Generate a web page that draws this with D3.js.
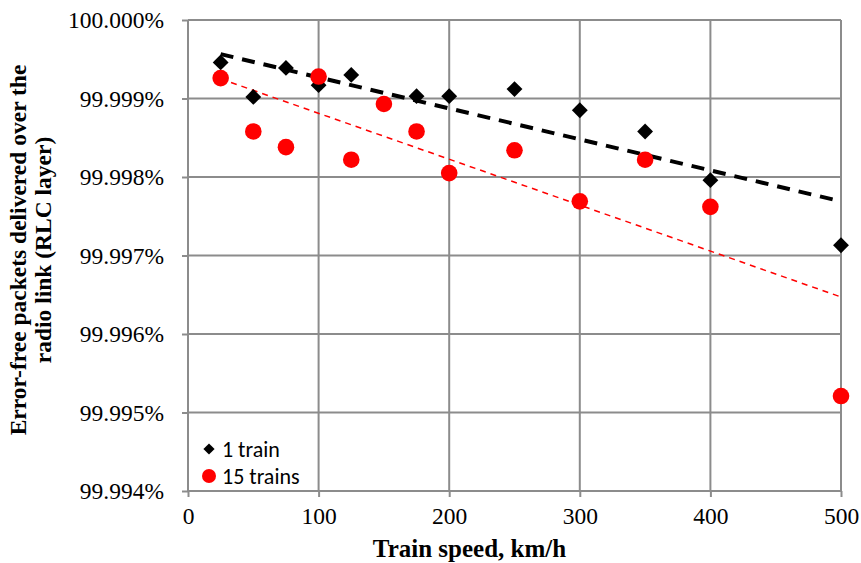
<!DOCTYPE html>
<html>
<head>
<meta charset="utf-8">
<script src="https://cdn.jsdelivr.net/npm/d3@7"></script>
<style>
  body { margin: 0; background: #fff; }
  svg { display: block; }
</style>
</head>
<body>
<div id="chart-container"></div>
<script>
// Data
const speeds = [25, 50, 75, 100, 125, 150, 175, 200, 250, 300, 350, 400, 500];
const oneTrain = [99.99946, 99.99902, 99.99939, 99.99917, 99.99930, 99.99893, 99.99903,
                  99.99903, 99.99912, 99.99885, 99.99858, 99.99796, 99.99713];
const fifteenTrains = [99.99926, 99.99858, 99.99838, 99.99928, 99.99822, 99.99893, 99.99858,
                       99.99805, 99.99834, 99.99769, 99.99822, 99.99762, 99.99521];
const xTicks = [0, 100, 200, 300, 400, 500];
const yTicks = [99.994, 99.995, 99.996, 99.997, 99.998, 99.999, 100.000];
const seriesNames = ["1 train", "15 trains"];

function renderChart() {
    const width = 861, height = 563;
    const margin = { top: 20, right: 20, bottom: 72, left: 188 };
    const w = width - margin.left - margin.right;
    const h = height - margin.top - margin.bottom;
    const serif = "'Liberation Serif', 'Times New Roman', serif";

    const svg = d3.select("#chart-container").append("svg")
        .attr("width", width)
        .attr("height", height);

    const g = svg.append("g")
        .attr("transform", `translate(${margin.left},${margin.top})`);

    const x = d3.scaleLinear().domain([0, 500]).range([0, w]);
    const y = d3.scaleLinear().domain([99.994, 100.000]).range([h, 0]);

    const gridColor = "#8c8c8c";

    // Grid
    g.append("g").selectAll("line")
        .data(yTicks)
        .join("line")
        .attr("x1", 0).attr("x2", w)
        .attr("y1", d => y(d)).attr("y2", d => y(d))
        .attr("stroke", gridColor).attr("stroke-width", 2);

    g.append("g").selectAll("line")
        .data(xTicks)
        .join("line")
        .attr("x1", d => x(d)).attr("x2", d => x(d))
        .attr("y1", 0).attr("y2", h)
        .attr("stroke", gridColor).attr("stroke-width", 2);

    // Axes
    const yAxis = g.append("g")
        .call(d3.axisLeft(y).tickValues(yTicks).tickSize(6).tickPadding(18)
            .tickFormat(d => d3.format(".3f")(d) + "%"));
    const xAxis = g.append("g")
        .attr("transform", `translate(0,${h})`)
        .call(d3.axisBottom(x).tickValues(xTicks).tickSize(6).tickPadding(10));

    [xAxis, yAxis].forEach(a => {
        a.attr("font-family", serif).attr("font-size", 23.5);
        a.select(".domain").remove();
        a.selectAll(".tick line").attr("stroke", gridColor).attr("stroke-width", 2);
        a.selectAll("text").attr("fill", "#000");
    });

    // Trendlines (least squares, like the spreadsheet's linear trendline)
    function trend(vals) {
        const mx = d3.mean(speeds), my = d3.mean(vals);
        const slope = d3.sum(speeds, (s, i) => (s - mx) * (vals[i] - my)) /
                      d3.sum(speeds, s => (s - mx) ** 2);
        return [speeds[0], speeds[speeds.length - 1]].map(s => [s, my + slope * (s - mx)]);
    }
    const line = d3.line().x(d => x(d[0])).y(d => y(d[1]));

    g.append("path")
        .attr("d", line(trend(fifteenTrains)))
        .attr("fill", "none")
        .attr("stroke", "#ff0000")
        .attr("stroke-width", 1.5)
        .attr("stroke-dasharray", "6,5");

    g.append("path")
        .attr("d", line(trend(oneTrain)))
        .attr("fill", "none")
        .attr("stroke", "#000")
        .attr("stroke-width", 4)
        .attr("stroke-dasharray", "13,9");

    // Points
    const diamond = d3.symbol().type(d3.symbolDiamond2).size(160);

    g.append("g").selectAll("path")
        .data(speeds.map((s, i) => [s, oneTrain[i]]))
        .join("path")
        .attr("d", diamond)
        .attr("transform", d => `translate(${x(d[0])},${y(d[1])})`)
        .attr("fill", "#000");

    g.append("g").selectAll("circle")
        .data(speeds.map((s, i) => [s, fifteenTrains[i]]))
        .join("circle")
        .attr("cx", d => x(d[0]))
        .attr("cy", d => y(d[1]))
        .attr("r", 8.3)
        .attr("fill", "#ff0000");

    // Legend
    const legend = g.append("g").attr("transform", "translate(21,429)");
    legend.append("path")
        .attr("d", d3.symbol().type(d3.symbolDiamond2).size(80))
        .attr("fill", "#000");
    legend.append("circle")
        .attr("cy", 27).attr("r", 7)
        .attr("fill", "#ff0000");
    legend.selectAll("text")
        .data(seriesNames)
        .join("text")
        .attr("x", 13)
        .attr("y", (d, i) => i * 27 + 7.5)
        .style("font-family", "Carlito, Lato, 'Open Sans', sans-serif")
        .style("font-size", "22px")
        .text(d => d);

    // Axis titles
    svg.append("text")
        .attr("x", margin.left + w / 2 - 45)
        .attr("y", 557)
        .attr("text-anchor", "middle")
        .style("font-family", serif)
        .style("font-size", "25px")
        .style("font-weight", "bold")
        .text("Train speed, km/h");

    const yt = svg.append("text")
        .attr("transform", "translate(0,250) rotate(-90)")
        .attr("text-anchor", "middle")
        .style("font-family", serif)
        .style("font-size", "23.5px")
        .style("font-weight", "bold");
    yt.append("tspan").attr("x", 0).attr("y", 26).text("Error-free packets delivered over the");
    yt.append("tspan").attr("x", 0).attr("y", 51).text("radio link (RLC layer)");
}

renderChart();
</script>
</body>
</html>
